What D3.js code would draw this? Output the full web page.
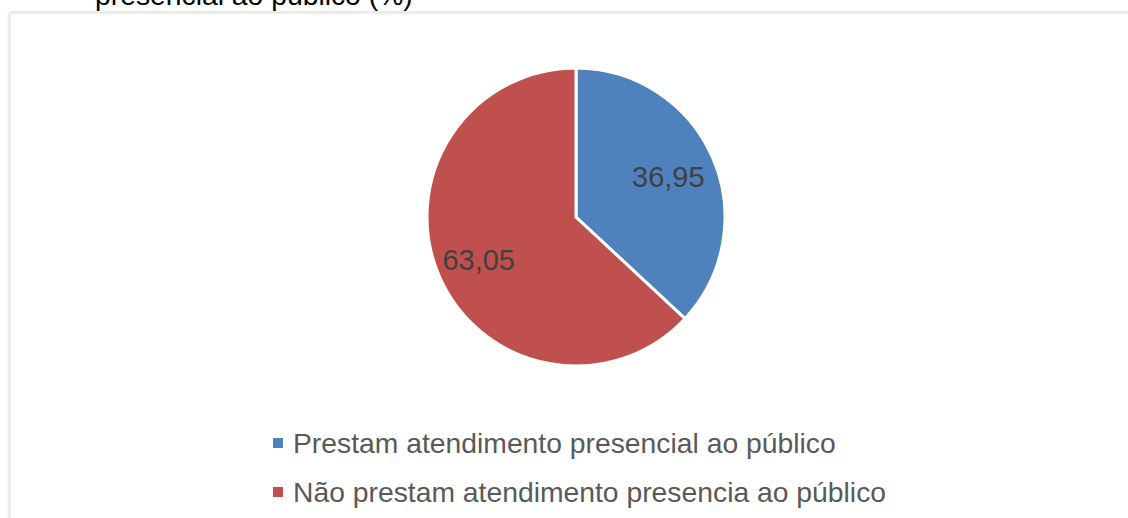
<!DOCTYPE html>
<html>
<head>
<meta charset="utf-8">
<script src="https://cdn.jsdelivr.net/npm/d3@7"></script>
<style>
  body { margin: 0; background: #fff; }
  text { font-family: 'Liberation Sans', Arial, sans-serif; }
</style>
</head>
<body>
<div id="chart"></div>
<script>
// data
let categories = ['Prestam atendimento presencial ao público', 'Não prestam atendimento presencia ao público'];
let values = [36.95, 63.05];
let colors = ['#4f81bd', '#c0504d'];
let titleText = 'presencial ao público (%)';

let width = 1128;
let height = 518;

let svg = d3
    .select('#chart')
    .append('svg')
    .attr('width', width)
    .attr('height', height);

// chart frame with a soft shadow
let defs = svg.append('defs');
let shadow = defs.append('filter').attr('id', 'shadow').attr('x', '-5%').attr('y', '-5%').attr('width', '110%').attr('height', '110%');
shadow.append('feGaussianBlur').attr('in', 'SourceAlpha').attr('stdDeviation', 1.5);
shadow.append('feOffset').attr('dx', 0).attr('dy', 0).attr('result', 'blur');
shadow.append('feFlood').attr('flood-color', '#000').attr('flood-opacity', 0.25);
shadow.append('feComposite').attr('in2', 'blur').attr('operator', 'in');
let merge = shadow.append('feMerge');
merge.append('feMergeNode');
merge.append('feMergeNode').attr('in', 'SourceGraphic');

svg.append('rect')
    .attr('x', 10)
    .attr('y', 13)
    .attr('width', width + 20)
    .attr('height', height + 20)
    .attr('fill', '#fff')
    .attr('stroke', '#e2e2e2')
    .attr('stroke-width', 1)
    .attr('filter', 'url(#shadow)');

// title (cut off at the top, as in the source)
svg.append('text')
    .attr('x', 95)
    .attr('y', 5)
    .attr('font-size', 28.3)
    .attr('fill', '#000')
    .text(titleText);

// pie
let cx = 576;
let cy = 217;
let radius = 149;

let pie = d3.pie().sort(null).value(d => d);
let arcs = pie(values);
let arc = d3.arc().innerRadius(0).outerRadius(radius);

let g = svg.append('g').attr('transform', `translate(${cx},${cy})`);

g.selectAll('path')
    .data(arcs)
    .enter()
    .append('path')
    .attr('d', arc)
    .attr('fill', (d, i) => colors[i])
    .attr('stroke', '#fff')
    .attr('stroke-width', 3)
    .attr('stroke-linejoin', 'miter');

// value labels
let labelArc = d3.arc().innerRadius(radius * 0.69).outerRadius(radius * 0.69);
let labelShift = [[-2, 1], [-3, 2]];
let fmt = v => d3.format('.2f')(v).replace('.', ',');

g.selectAll('text.val')
    .data(arcs)
    .enter()
    .append('text')
    .attr('class', 'val')
    .attr('transform', (d, i) => {
        let c = labelArc.centroid(d);
        return `translate(${c[0] + labelShift[i][0]},${c[1] + labelShift[i][1]})`;
    })
    .attr('text-anchor', 'middle')
    .attr('dy', '0.36em')
    .attr('font-size', 29)
    .attr('fill', '#404040')
    .text(d => fmt(d.data));

// legend
let legend = svg.append('g').attr('transform', 'translate(273,443)');
let rowH = 49;

categories.forEach((c, i) => {
    legend.append('rect')
        .attr('x', 0)
        .attr('y', i * rowH - 5)
        .attr('width', 10)
        .attr('height', 10)
        .attr('fill', colors[i]);
    legend.append('text')
        .attr('x', 20)
        .attr('y', i * rowH + 10)
        .attr('font-size', 28.3)
        .attr('fill', '#595959')
        .text(c);
});
</script>
</body>
</html>
